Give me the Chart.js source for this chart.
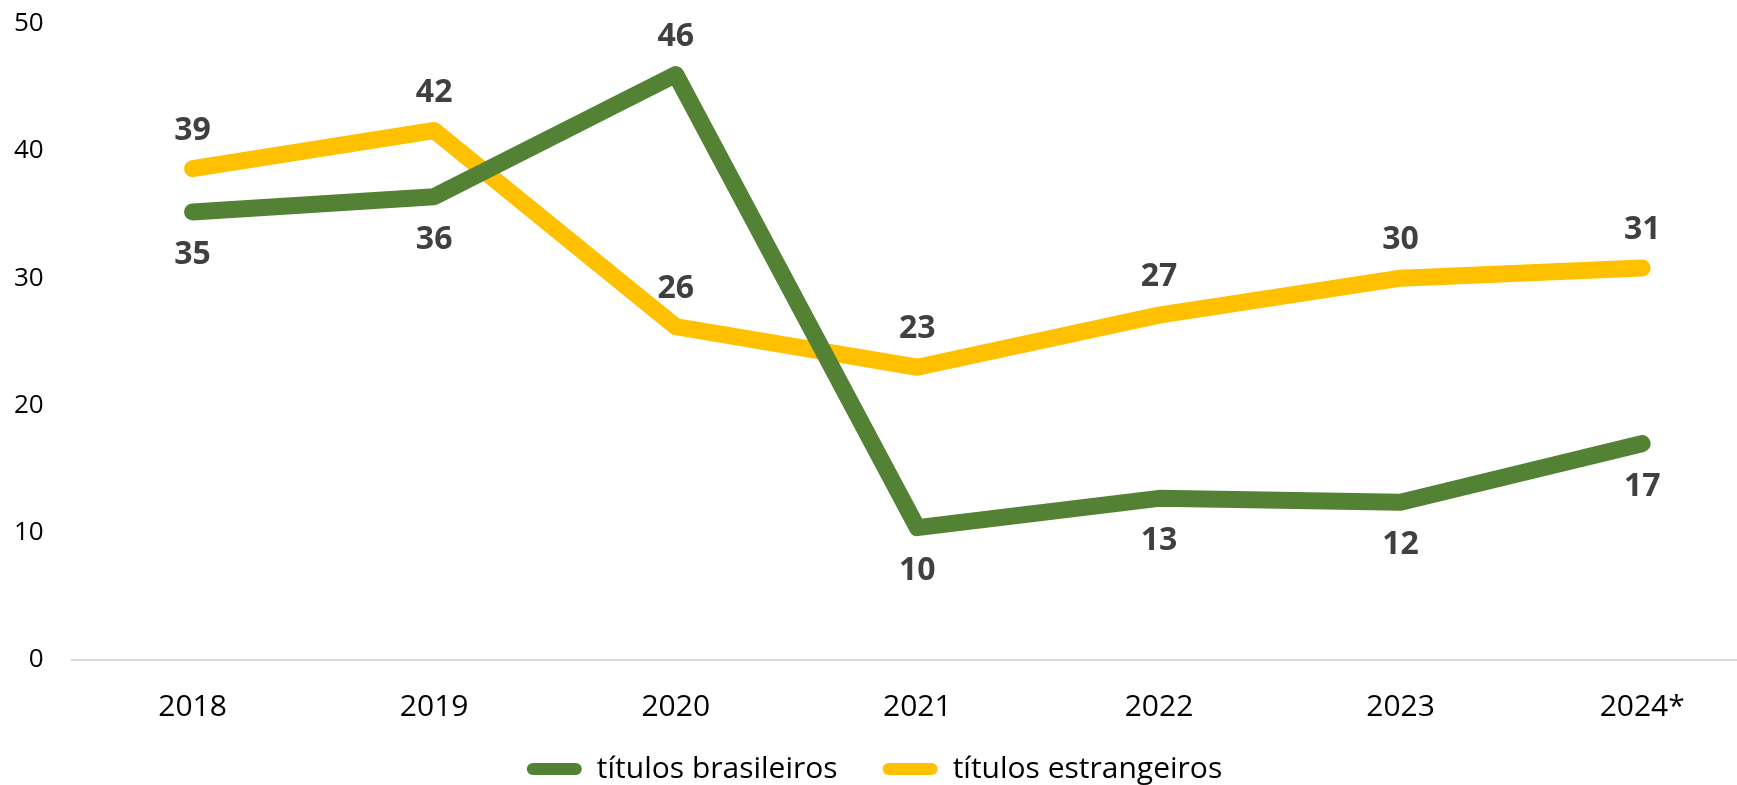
<!DOCTYPE html>
<html>
<head>
<meta charset="utf-8">
<script src="https://cdn.jsdelivr.net/npm/chart.js@4/dist/chart.umd.min.js"></script>
<style>
  html, body { margin: 0; padding: 0; background: #fff; overflow: hidden; }
  #wrap { width: 1779px; height: 814px; margin-left: -14px; margin-top: -20px; position: relative; }
</style>
</head>
<body>
<div id="wrap"><canvas id="grafico"></canvas></div>
<script>
// dados
const anos = ['2018', '2019', '2020', '2021', '2022', '2023', '2024*'];
const titulosBrasileiros = [35.2, 36.4, 46.0, 10.4, 12.7, 12.4, 17.0];
const titulosEstrangeiros = [38.6, 41.6, 26.2, 23.0, 27.1, 30.0, 30.8];
const ticksY = [0, 10, 20, 30, 40, 50];

const VERDE = '#548235';
const AMARELO = '#FFC000';

// posição do rótulo de cada ponto (acima / abaixo da linha)
const ladoBrasileiros = ['below', 'below', 'above', 'below', 'below', 'below', 'below'];
const ladoEstrangeiros = ['above', 'above', 'above', 'above', 'above', 'above', 'above'];

const rotulos = {
    id: 'rotulos',
    afterDatasetsDraw(chart) {
        const ctx = chart.ctx;
        ctx.save();
        ctx.font = 'bold 32px "Open Sans", sans-serif';
        ctx.fillStyle = '#404040';
        ctx.textAlign = 'center';
        ctx.textBaseline = 'middle';
        chart.data.datasets.forEach((ds, i) => {
            const meta = chart.getDatasetMeta(i);
            meta.data.forEach((pt, j) => {
                const dy = ds.lados[j] === 'above' ? -38 : 43;
                ctx.fillText(String(Math.round(ds.data[j])), pt.x, pt.y + dy);
            });
        });
        ctx.restore();
    }
};

// o eixo x fica mais baixo que os rótulos; evita que sejam cortados
const eixoX = {
    id: 'eixoX',
    afterLayout(chart) {
        chart.scales.x.bottom = chart.height;
    }
};

new Chart(document.getElementById('grafico').getContext('2d'), {
    type: 'line',
    data: {
        labels: anos,
        datasets: [{
            label: 'títulos brasileiros',
            data: titulosBrasileiros,
            lados: ladoBrasileiros,
            borderColor: VERDE,
            backgroundColor: VERDE,
            borderWidth: 17,
            borderCapStyle: 'round',
            borderJoinStyle: 'round',
            pointRadius: 0,
            tension: 0
        }, {
            label: 'títulos estrangeiros',
            data: titulosEstrangeiros,
            lados: ladoEstrangeiros,
            borderColor: AMARELO,
            backgroundColor: AMARELO,
            borderWidth: 17,
            borderCapStyle: 'round',
            borderJoinStyle: 'round',
            pointRadius: 0,
            tension: 0
        }]
    },
    options: {
        responsive: true,
        maintainAspectRatio: false,
        animation: false,
        layout: { padding: { left: 0, top: 4, right: 2, bottom: 0 } },
        plugins: {
            tooltip: { enabled: false },
            legend: {
                position: 'bottom',
                labels: {
                    color: '#000',
                    font: { family: '"Open Sans", sans-serif', size: 30 },
                    boxWidth: 55,
                    boxHeight: 12,
                    useBorderRadius: true,
                    borderRadius: 6,
                    padding: 45,
                    generateLabels(chart) {
                        return Chart.defaults.plugins.legend.labels.generateLabels(chart).map(l => {
                            l.lineWidth = 0;
                            l.strokeStyle = l.fillStyle;
                            return l;
                        });
                    }
                }
            }
        },
        scales: {
            x: {
                offset: true,
                grid: { display: false, drawTicks: false },
                border: { display: true, color: '#d9d9d9', width: 2 },
                ticks: {
                    color: '#000',
                    font: { family: '"Open Sans", sans-serif', size: 30 },
                    padding: 29
                },
                afterFit(axis) { axis.height = 49; }
            },
            y: {
                min: 0,
                max: 50,
                afterBuildTicks(axis) {
                    axis.ticks = ticksY.map(v => ({ value: v }));
                },
                grid: { display: false, drawTicks: false },
                border: { display: false },
                ticks: {
                    color: '#000',
                    font: { family: '"Open Sans", sans-serif', size: 26 },
                    padding: 28
                }
            }
        }
    },
    plugins: [rotulos, eixoX]
});
</script>
</body>
</html>
